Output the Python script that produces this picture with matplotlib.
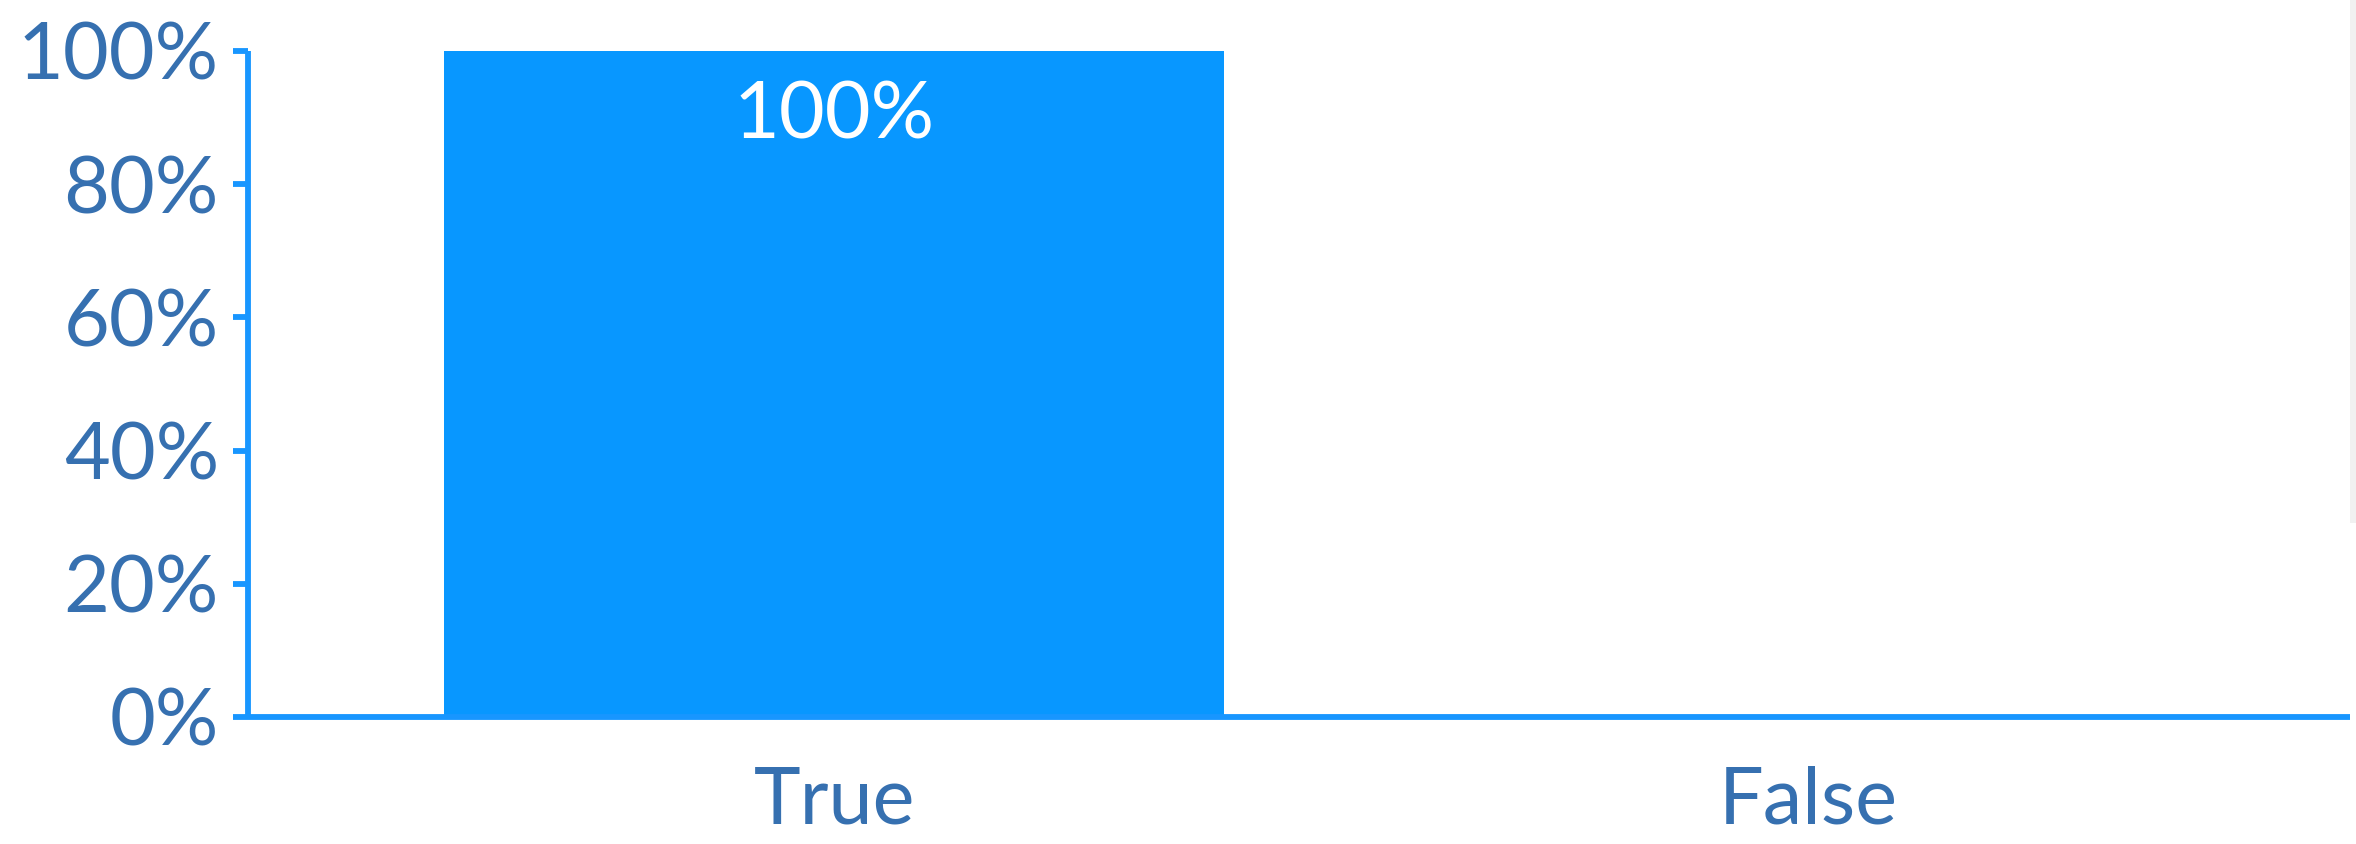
import matplotlib
matplotlib.use("Agg")
import matplotlib.pyplot as plt
from matplotlib.patches import Rectangle
from matplotlib.ticker import FuncFormatter

categories = ["True", "False"]
shares = [100, 0]
bar_labels = ["100%", ""]
y_ticks = [0, 20, 40, 60, 80, 100]

BAR = "#0897ff"
AXIS = "#1896ff"
TEXT = "#3670b0"
FS = 57

plt.rcParams["font.family"] = ["Lato", "DejaVu Sans"]

fig = plt.figure(figsize=(23.56, 8.44), dpi=100)
ax = fig.add_axes([0.1053, 0.1505, 0.8922, 0.7891])

x = list(range(len(categories)))
bars = ax.bar(x, shares, width=0.8, color=BAR, linewidth=0, zorder=2)

for rect, lab in zip(bars, bar_labels):
    if lab:
        ax.text(rect.get_x() + rect.get_width() / 2, rect.get_height() - 4.4, lab,
                ha="center", va="top", color="white", fontsize=FS)

ax.set_xlim(-0.6016, 1.556)
ax.set_ylim(0, 100)
ax.set_yticks(y_ticks)
ax.yaxis.set_major_formatter(FuncFormatter(lambda v, p: f"{v:.0f}%"))
ax.set_xticks(x)
ax.set_xticklabels(categories)

for side in ("top", "right"):
    ax.spines[side].set_visible(False)
for side in ("left", "bottom"):
    ax.spines[side].set_color(AXIS)
    ax.spines[side].set_linewidth(4.2)
    ax.spines[side].set_capstyle("butt")

ax.tick_params(axis="y", colors=AXIS, labelcolor=TEXT, length=11, width=4.2,
               pad=10, labelsize=FS)
ax.tick_params(axis="x", length=0, labelcolor=TEXT, pad=35, labelsize=FS)

# thin grey strip along the upper right edge
fig.patches.append(Rectangle((2350 / 2356, 1 - 523 / 844), 6 / 2356, 523 / 844,
                             transform=fig.transFigure, facecolor="#f1f1f1",
                             edgecolor="none"))

fig.savefig("out.png", dpi=100, facecolor="white")
